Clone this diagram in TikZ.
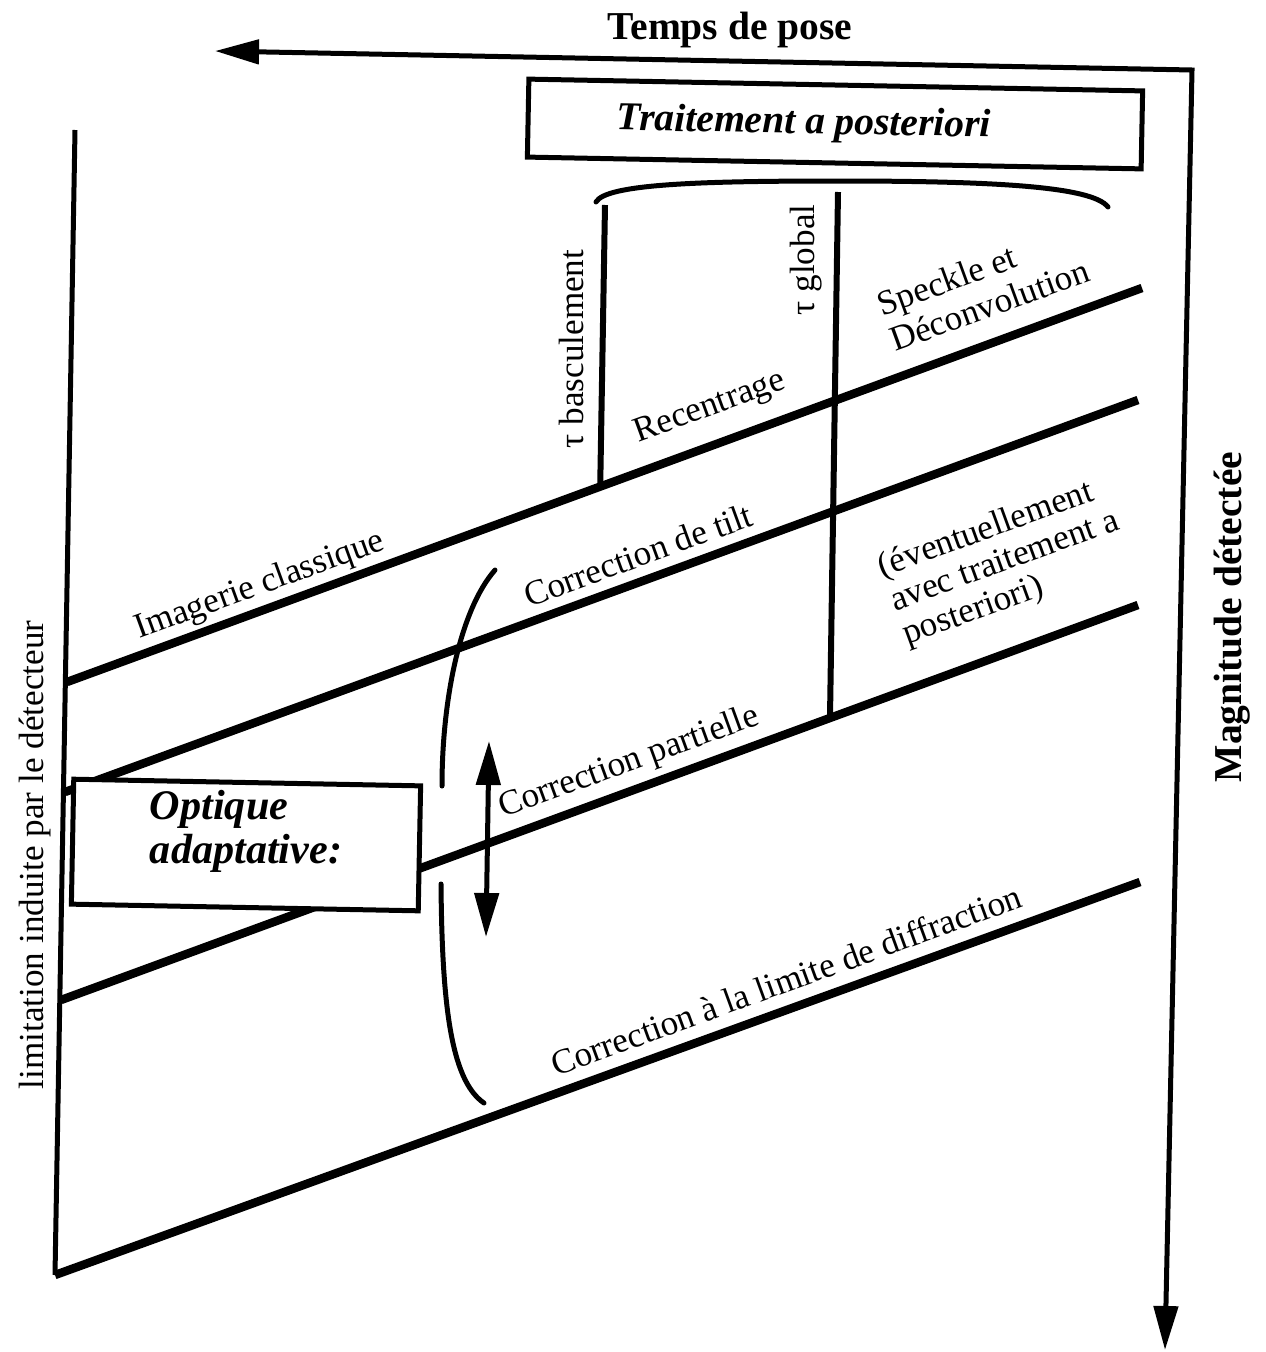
\documentclass[tikz,border=0pt]{standalone}
\usepackage{fontspec}
\setmainfont{Liberation Serif}
\usetikzlibrary{arrows.meta,calc}

\tikzset{
  axis/.style={line width=0.1cm},
  band/.style={line width=0.17cm},
  lbl/.style={inner sep=0pt, font=\fontsize{20}{24}\selectfont},
  slant/.style={lbl, rotate=20},
  upright/.style={lbl, rotate=90},
  titlelbl/.style={inner sep=0pt, font=\fontsize{22.5}{27}\selectfont\bfseries},
  boxlbl/.style={inner sep=0pt, font=\fontsize{22.5}{25}\selectfont\bfseries\itshape},
  frame/.style={draw, line width=0.1cm, inner sep=0pt, rotate=-1.1}
}

\begin{document}
\begin{tikzpicture}[x=0.02cm, y=-0.02cm, >={Triangle[length=0.88cm, width=0.48cm]}]
\useasboundingbox (0,0) rectangle (1265,1352);

% axes
\coordinate (tl) at (215,51);
\coordinate (tr) at (1192,70);
\coordinate (br) at (1165,1350);
\draw[axis, <->] (tl) -- (tr) -- (br);
\node[titlelbl] (tp) at (730,30) {Temps de pose};
\node[titlelbl, rotate=90] (mag) at (1232,617) {Magnitude détectée};

\coordinate (lt) at (75,130);
\coordinate (lb) at (55,1275);
\draw[axis] (lt) -- (lb);
\node[upright] (lim) at (35,855) {limitation induite par le détecteur};

% regimes
\coordinate (a1) at (67,682);
\coordinate (b1) at (1142,288);
\coordinate (a2) at (65,792);
\coordinate (b2) at (1138,400);
\coordinate (a3) at (61,1000);
\coordinate (b3) at (1138,605);
\coordinate (b4) at (1140,882);
\draw[band] (a1) -- (b1);
\draw[band] (a2) -- (b2);
\draw[band] (a3) -- (b3);
\draw[band] (lb) -- (b4);

% time limits
\coordinate (tb) at (605,205);
\coordinate (tbe) at ($(a1)!0.496!(b1)$);
\coordinate (tg) at (838,192);
\coordinate (tge) at ($(a3)!0.714!(b3)$);
\draw[axis, line width=0.12cm] (tb) -- (tbe);
\draw[axis, line width=0.12cm] (tg) -- (tge);
\node[upright] (tbl) at (571,349) {τ basculement};
\node[upright] (tgl) at (806,260) {τ global};

% post-processing
\node[frame, minimum width=12.28cm, minimum height=1.56cm] (post) at (835,124) {};
\node[boxlbl, rotate=-1.1] (posttxt) at (804,124) {Traitement a posteriori};
\draw[axis, line cap=round] (596,202) .. controls (606,184) and (700,181) .. (838,181)
  .. controls (990,181) and (1092,186) .. (1108,207);

% adaptive optics
\draw[axis, line cap=round] (495,570) .. controls (460,610) and (442,700) .. (442,786);
\draw[axis, line cap=round] (441,884) .. controls (442,1000) and (450,1080) .. (484,1103);
\coordinate (up) at (489,741);
\coordinate (dn) at (486,937);
\draw[axis, <->] (up) -- (dn);
\node[frame, fill=white, minimum width=6.94cm, minimum height=2.5cm] (ao) at (246,845) {};
\node[boxlbl, align=left, font=\fontsize{24}{25}\selectfont\bfseries\itshape] (aotxt) at (246,831) {Optique\\adaptative:};

% labels
\node[slant] (ic) at (260,586) {Imagerie classique};
\node[slant] (rc) at (710,408) {Recentrage};
\node[slant, align=left, font=\fontsize{20}{21.5}\selectfont] (sd) at (983,287) {Speckle et\\Déconvolution};
\node[slant] (ct) at (638,555) {Correction de tilt};
\node[slant, align=left, font=\fontsize{20}{20.5}\selectfont] (ev) at (1005,562) {(éventuellement\\avec traitement a\\posteriori)};
\node[slant] (cp) at (629,763) {Correction partielle};
\node[slant] (cl) at (786,980) {Correction à la limite de diffraction};
\end{tikzpicture}
\end{document}
